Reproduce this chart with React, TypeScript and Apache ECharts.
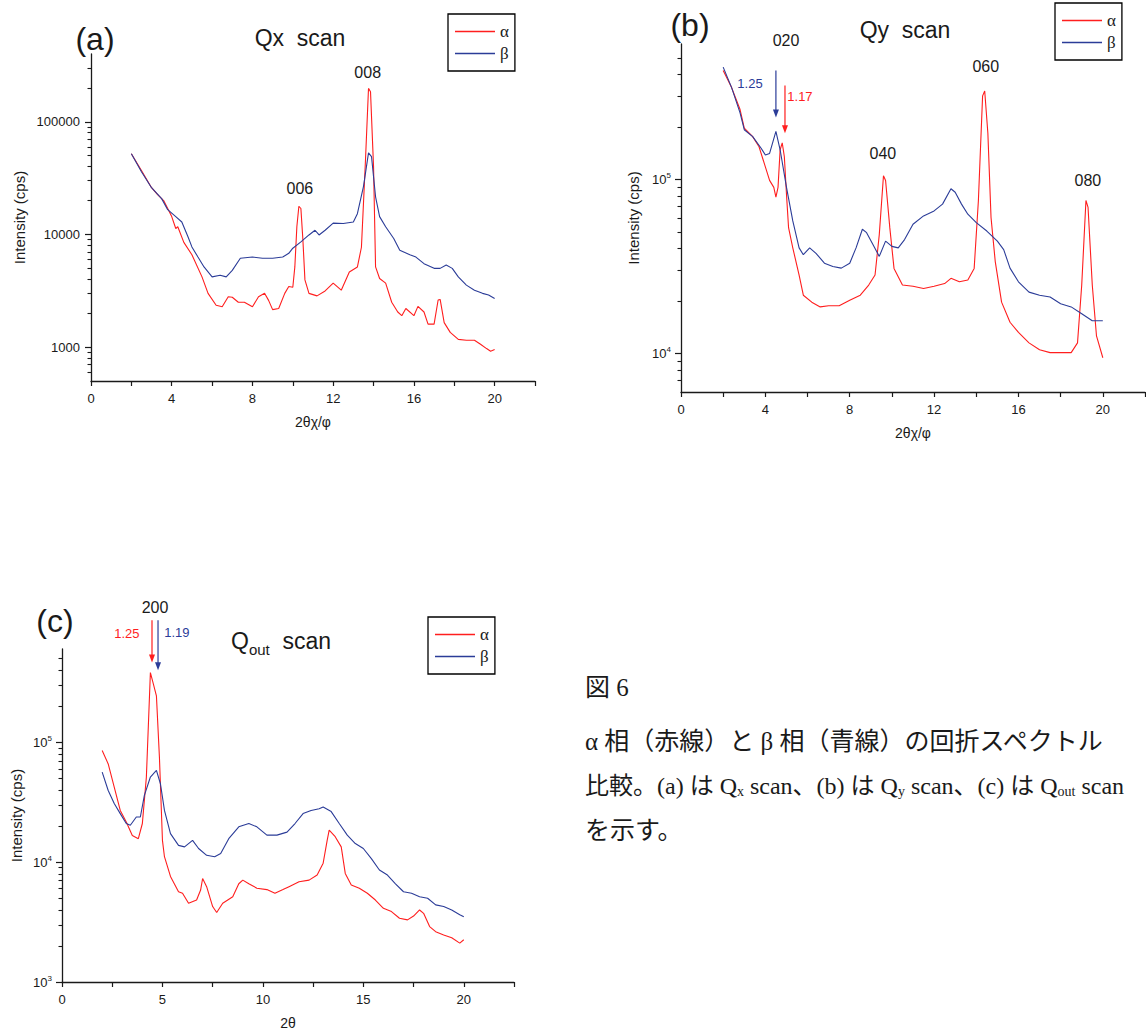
import React, { useEffect, useRef } from 'react';
import * as echarts from 'echarts';

const RED = '#ff1e1e';
const BLUE = '#2b3c98';
const INK = '#1a1a1a';
const SANS = '"Liberation Sans", Arial, sans-serif';
const SERIF = '"Liberation Serif", "Times New Roman", serif';
const CAPTION_FONT = '"Liberation Serif", "Noto Sans CJK JP", serif';

// ---------- (a) Qx scan ----------
const qxAlphaX = [2.0, 2.5, 3.0, 3.3, 3.6, 4.0, 4.2, 4.3, 4.6, 5.0, 5.5, 5.8, 6.2, 6.5, 6.8, 7.0, 7.3, 7.6, 8.0, 8.3, 8.6, 8.8, 9.0, 9.3, 9.6, 9.8, 10.0, 10.1, 10.2, 10.3, 10.4, 10.5, 10.6, 10.8, 11.2, 11.6, 12.0, 12.4, 12.8, 13.2, 13.4, 13.6, 13.75, 13.85, 14.0, 14.1, 14.3, 14.6, 14.9, 15.2, 15.4, 15.6, 16.0, 16.2, 16.5, 16.7, 17.0, 17.2, 17.3, 17.5, 17.8, 18.2, 18.6, 19.0, 19.3, 19.6, 19.8, 20.0];
const qxAlphaY = [52000, 37000, 26000, 22600, 20000, 14400, 11300, 11700, 8500, 6600, 4200, 3000, 2350, 2280, 2800, 2770, 2500, 2500, 2280, 2800, 3000, 2600, 2150, 2200, 3000, 3450, 3400, 5150, 11700, 17800, 17000, 8900, 3950, 3000, 2850, 3150, 3700, 3200, 4650, 5150, 7700, 45600, 198000, 185000, 40000, 5150, 4060, 3700, 2500, 2050, 1900, 2200, 1900, 2300, 2050, 1600, 1600, 2620, 2650, 1650, 1350, 1170, 1150, 1150, 1060, 970, 920, 950];
const qxBetaX = [2.0, 2.5, 3.0, 3.5, 3.8, 4.2, 4.5, 4.8, 5.0, 5.3, 5.6, 6.0, 6.4, 6.7, 7.0, 7.4, 8.0, 8.5, 9.0, 9.5, 9.8, 10.0, 10.4, 10.8, 11.1, 11.3, 11.6, 12.0, 12.5, 13.0, 13.2, 13.5, 13.75, 13.9, 14.1, 14.3, 14.6, 15.0, 15.3, 15.8, 16.1, 16.5, 17.0, 17.3, 17.6, 17.9, 18.2, 18.6, 19.0, 19.4, 19.7, 20.0];
const qxBetaY = [52000, 36000, 26000, 20800, 16600, 14400, 12900, 9600, 7750, 6300, 5150, 4200, 4350, 4200, 4800, 6150, 6300, 6150, 6150, 6300, 6800, 7550, 8600, 9900, 10900, 9900, 10900, 12600, 12500, 12900, 15300, 26600, 53000, 49000, 21600, 14400, 11700, 9200, 7250, 6600, 6300, 5500, 5000, 5000, 5350, 5000, 4200, 3550, 3200, 3000, 2900, 2700];

// ---------- (b) Qy scan ----------
const qyAlphaX = [2.0, 2.4, 2.8, 3.0, 3.4, 3.7, 4.0, 4.2, 4.4, 4.5, 4.6, 4.7, 4.8, 4.9, 5.0, 5.1, 5.3, 5.6, 5.8, 6.2, 6.6, 7.0, 7.5, 8.0, 8.5, 8.9, 9.2, 9.4, 9.6, 9.7, 9.9, 10.1, 10.5, 11.0, 11.5, 12.0, 12.5, 12.8, 13.2, 13.6, 13.9, 14.1, 14.3, 14.4, 14.55, 14.7, 14.9, 15.2, 15.6, 16.0, 16.5, 17.0, 17.5, 18.0, 18.5, 18.8, 19.0, 19.2, 19.3, 19.5, 19.7, 20.0];
const qyAlphaY = [422000, 337000, 252000, 197000, 176000, 154000, 118000, 98700, 90000, 79000, 90000, 148000, 162000, 135000, 82600, 52800, 40400, 28200, 21600, 19700, 18500, 18800, 18800, 20200, 21600, 24700, 28200, 48000, 105000, 98600, 52800, 30800, 24700, 24300, 23600, 24300, 25200, 27000, 25800, 26400, 30800, 75400, 302000, 322000, 184000, 60300, 33700, 19700, 15100, 13200, 11500, 10500, 10100, 10100, 10100, 11500, 24700, 75600, 69000, 24700, 12600, 9440];
const qyBetaX = [2.0, 2.4, 2.8, 3.0, 3.4, 3.8, 4.0, 4.2, 4.5, 4.7, 5.0, 5.3, 5.6, 5.8, 6.1, 6.4, 6.8, 7.2, 7.6, 8.0, 8.3, 8.6, 8.8, 9.1, 9.4, 9.7, 10.0, 10.3, 10.6, 11.0, 11.5, 12.0, 12.4, 12.8, 13.0, 13.3, 13.6, 14.0, 14.5, 15.0, 15.3, 15.6, 16.0, 16.5, 17.0, 17.5, 18.0, 18.5, 19.0, 19.5, 20.0];
const qyBetaY = [442000, 337000, 241000, 193000, 176000, 151000, 138000, 141000, 189000, 148000, 90200, 57700, 40400, 36900, 40400, 37600, 33000, 31600, 30900, 33000, 40400, 51700, 49400, 42200, 36100, 44200, 41200, 40400, 45100, 55200, 61700, 65900, 72100, 88300, 84400, 72100, 63100, 56400, 50500, 44200, 39500, 30900, 25800, 22500, 21600, 21100, 19300, 18500, 16900, 15400, 15400];

// ---------- (c) Qout scan ----------
const qoAlphaX = [2.0, 2.3, 2.6, 2.9, 3.2, 3.5, 3.8, 4.0, 4.2, 4.4, 4.55, 4.7, 4.85, 5.0, 5.1, 5.4, 5.8, 6.0, 6.3, 6.7, 6.9, 7.0, 7.2, 7.5, 7.7, 8.0, 8.5, 8.8, 9.0, 9.3, 9.7, 10.2, 10.6, 11.0, 11.3, 11.8, 12.3, 12.7, 13.0, 13.2, 13.3, 13.6, 13.9, 14.1, 14.4, 14.8, 15.2, 15.6, 16.0, 16.4, 16.8, 17.2, 17.5, 17.8, 18.0, 18.3, 18.6, 19.0, 19.4, 19.8, 20.0];
const qoAlphaY = [85300, 66000, 42300, 27000, 21600, 16700, 15700, 21000, 51200, 381000, 305000, 244000, 75000, 15200, 11100, 7600, 5660, 5500, 4540, 4830, 5850, 7300, 6240, 4260, 3800, 4540, 5140, 6600, 7080, 6600, 6060, 5900, 5500, 5900, 6240, 6860, 7080, 7800, 9800, 15200, 18500, 16300, 13400, 8050, 6450, 6060, 5500, 4830, 4120, 3870, 3400, 3300, 3550, 3990, 3740, 2900, 2630, 2470, 2340, 2110, 2250];
const qoBetaX = [2.0, 2.3, 2.6, 2.9, 3.2, 3.4, 3.7, 3.9, 4.1, 4.4, 4.7, 4.9, 5.1, 5.4, 5.8, 6.1, 6.5, 6.8, 7.2, 7.6, 7.9, 8.3, 8.8, 9.3, 9.7, 10.2, 10.7, 11.2, 11.6, 12.0, 12.4, 12.8, 13.0, 13.4, 13.8, 14.2, 14.6, 15.0, 15.4, 15.8, 16.2, 16.6, 17.0, 17.4, 17.8, 18.2, 18.6, 19.0, 19.4, 19.8, 20.0];
const qoBetaY = [56300, 39600, 30800, 25400, 21000, 20300, 23800, 23800, 36100, 51300, 58200, 45100, 27000, 17300, 13800, 13400, 15200, 13000, 11400, 11100, 11800, 15700, 19700, 21000, 19700, 16800, 16800, 17800, 21000, 25400, 27000, 27900, 28800, 26400, 21000, 16800, 14300, 13000, 10700, 8600, 7800, 6600, 5660, 5500, 5150, 5000, 4400, 4260, 3990, 3640, 3500];

// ---------- axes: ticks and labels ----------
const qxXTicks = [0, 2, 4, 6, 8, 10, 12, 14, 16, 18, 20, 22];
const qxXLabels = [0, 4, 8, 12, 16, 20];
const qyXTicks = [0, 2, 4, 6, 8, 10, 12, 14, 16, 18, 20, 22];
const qyXLabels = [0, 4, 8, 12, 16, 20];
const qoXTicks = [0, 2.5, 5, 7.5, 10, 12.5, 15, 17.5, 20, 22.5];
const qoXLabels = [0, 5, 10, 15, 20];

const qxYMajor = [1000, 10000, 100000];
const qxYMinor = [600, 700, 800, 900, 2000, 3000, 4000, 5000, 6000, 7000, 8000, 9000, 20000, 30000, 40000, 50000, 60000, 70000, 80000, 90000, 200000, 300000];
const qyYMajor = [10000, 100000];
const qyYMinor = [7000, 8000, 9000, 20000, 30000, 40000, 50000, 60000, 70000, 80000, 90000, 200000, 300000, 400000, 500000];
const qoYMajor = [1000, 10000, 100000];
const qoYMinor = [2000, 3000, 4000, 5000, 6000, 7000, 8000, 9000, 20000, 30000, 40000, 50000, 60000, 70000, 80000, 90000, 200000, 300000, 400000, 500000];

// ---------- annotations (data coordinates) ----------
const qxPeakNames = ['006', '008'];
const qxPeakX = [10.35, 13.71];
const qxPeakY = [25800, 276000];

const qyPeakNames = ['020', '040', '060', '080'];
const qyPeakX = [4.98, 9.57, 14.45, 19.29];
const qyPeakY = [630000, 141000, 446000, 98700];
const qyDNames = ['1.25', '1.17'];
const qyDX = [3.27, 5.64];
const qyDY = [356000, 300000];
const qyArrowX = [4.5, 4.93];
const qyArrowFrom = [423000, 347000];
const qyArrowTo = [227000, 184000];

const qoPeakNames = ['200'];
const qoPeakX = [4.63];
const qoPeakY = [1330000];
const qoDNames = ['1.25', '1.19'];
const qoDX = [3.23, 5.72];
const qoDY = [810000, 825000];
const qoArrowX = [4.48, 4.78];
const qoArrowFrom = [1040000, 1040000];
const qoArrowTo = [464000, 398000];

const zip = (xs: number[], ys: number[]) => xs.map((x, i) => [x, ys[i]]);

const supFormatter = (v: number) => `{b|10}{s|${Math.round(Math.log10(v))}}`;
const plainFormatter = (v: number) => String(Math.round(v));

function xAxisFor(g: number, max: number, interval: number, ticks: number[], labels: number[], name: string) {
  return {
    type: 'value', gridIndex: g, min: 0, max, interval,
    name, nameLocation: 'middle', nameGap: 34,
    nameTextStyle: { fontFamily: SANS, fontSize: 14, color: INK },
    axisLine: { show: true, onZero: false, lineStyle: { color: INK, width: 1.3 } },
    axisTick: { show: true, length: 5, customValues: ticks, lineStyle: { color: INK, width: 1.2 } },
    axisLabel: { customValues: labels, fontFamily: SANS, fontSize: 13, color: INK, margin: 11 },
    splitLine: { show: false },
  };
}

function yAxesFor(g: number, min: number, max: number, major: number[], minor: number[], nameGap: number, sup: boolean) {
  return [
    {
      type: 'log', logBase: 10, gridIndex: g, min, max, position: 'left',
      name: 'Intensity (cps)', nameLocation: 'middle', nameGap, nameRotate: 90,
      nameTextStyle: { fontFamily: SANS, fontSize: 15, color: INK },
      axisLine: { show: true, lineStyle: { color: INK, width: 1.3 } },
      axisTick: { show: true, length: 6, customValues: major, lineStyle: { color: INK, width: 1.2 } },
      axisLabel: sup
        ? {
            customValues: major, margin: 10, formatter: supFormatter,
            rich: {
              b: { fontFamily: SANS, fontSize: 13, color: INK },
              s: { fontFamily: SANS, fontSize: 8, color: INK, padding: [0, 0, 8, 0] },
            },
          }
        : { customValues: major, margin: 11, fontFamily: SANS, fontSize: 13, color: INK, formatter: plainFormatter },
      splitLine: { show: false },
    },
    {
      type: 'log', logBase: 10, gridIndex: g, min, max, position: 'left',
      axisLine: { show: false },
      axisTick: { show: true, length: 3.5, customValues: minor, lineStyle: { color: INK, width: 1.1 } },
      axisLabel: { show: false },
      splitLine: { show: false },
    },
  ];
}

function legendFor(left: number, top: number) {
  return {
    left, top, orient: 'vertical', data: ['α', 'β'], icon: 'rect',
    itemWidth: 40, itemHeight: 1.4, itemGap: 3, itemTextGap: 9,
    padding: [8, 6, 8, 7], borderColor: '#000', borderWidth: 1.3,
    selectedMode: false,
    textStyle: { fontFamily: SERIF, fontSize: 17, color: INK, lineHeight: 19 },
  };
}

function lineSeries(name: string, color: string, g: number, xs: number[], ys: number[]) {
  return {
    type: 'line', name, xAxisIndex: g, yAxisIndex: 2 * g,
    data: zip(xs, ys), symbol: 'none', showSymbol: false, clip: true,
    lineStyle: { color, width: 1.1 }, itemStyle: { color },
  };
}

const baseOption = {
  animation: false,
  backgroundColor: '#ffffff',
  grid: [
    { left: 91, top: 54, width: 444, height: 327 },
    { left: 681, top: 44, width: 464, height: 348 },
    { left: 62, top: 649, width: 452, height: 333 },
  ],
  xAxis: [
    xAxisFor(0, 22, 2, qxXTicks, qxXLabels, '2θχ/φ'),
    xAxisFor(1, 22, 2, qyXTicks, qyXLabels, '2θχ/φ'),
    xAxisFor(2, 22.5, 2.5, qoXTicks, qoXLabels, '2θ'),
  ],
  yAxis: [
    ...yAxesFor(0, 500, 400000, qxYMajor, qxYMinor, 64, false),
    ...yAxesFor(1, 6000, 600000, qyYMajor, qyYMinor, 40, true),
    ...yAxesFor(2, 1000, 600000, qoYMajor, qoYMinor, 38, true),
  ],
  legend: [legendFor(448, 14), legendFor(1055, 3), legendFor(428, 617)],
  series: [
    lineSeries('α', RED, 0, qxAlphaX, qxAlphaY),
    lineSeries('β', BLUE, 0, qxBetaX, qxBetaY),
    lineSeries('α', RED, 1, qyAlphaX, qyAlphaY),
    lineSeries('β', BLUE, 1, qyBetaX, qyBetaY),
    lineSeries('α', RED, 2, qoAlphaX, qoAlphaY),
    lineSeries('β', BLUE, 2, qoBetaX, qoBetaY),
  ],
};

function text(x: number, y: number, t: string, fontSize: number, fill = INK, fontFamily = SANS, align = 'center', extra: any = {}) {
  return {
    type: 'text', x, y, silent: true,
    style: { text: t, fontSize, fill, fontFamily, align, verticalAlign: 'middle', ...extra },
  };
}

export default function App() {
  const ref = useRef<HTMLDivElement>(null);
  useEffect(() => {
    if (!ref.current) return;
    const chart = echarts.init(ref.current, null, { renderer: 'svg' });
    chart.setOption(baseOption as any);
    const px = (g: number, x: number, y: number) =>
      chart.convertToPixel({ xAxisIndex: g, yAxisIndex: 2 * g } as any, [x, y]) as number[];

    const g: any[] = [];
    // panel letters & titles
    g.push(text(95, 39, '(a)', 32));
    g.push(text(300, 38, 'Qx  scan', 23));
    g.push(text(690, 25, '(b)', 32));
    g.push(text(905, 30, 'Qy  scan', 23));
    g.push(text(55, 621, '(c)', 32));
    g.push({
      type: 'text', x: 231, y: 641, silent: true,
      style: {
        text: '{q|Q}{s|out}{n|  scan}', align: 'left', verticalAlign: 'middle',
        rich: {
          q: { fontFamily: SANS, fontSize: 23, fill: INK, color: INK },
          s: { fontFamily: SANS, fontSize: 15, fill: INK, color: INK, padding: [16, 0, 0, 0] },
          n: { fontFamily: SANS, fontSize: 23, fill: INK, color: INK },
        },
      },
    });

    const addPeaks = (gi: number, names: string[], xs: number[], ys: number[]) => {
      names.forEach((n, i) => {
        const p = px(gi, xs[i], ys[i]);
        g.push(text(p[0], p[1], n, 16));
      });
    };
    addPeaks(0, qxPeakNames, qxPeakX, qxPeakY);
    addPeaks(1, qyPeakNames, qyPeakX, qyPeakY);
    addPeaks(2, qoPeakNames, qoPeakX, qoPeakY);

    const addD = (gi: number, names: string[], xs: number[], ys: number[], colors: string[]) => {
      names.forEach((n, i) => {
        const p = px(gi, xs[i], ys[i]);
        g.push(text(p[0], p[1], n, 13, colors[i]));
      });
    };
    addD(1, qyDNames, qyDX, qyDY, [BLUE, RED]);
    addD(2, qoDNames, qoDX, qoDY, [RED, BLUE]);

    const addArrows = (gi: number, xs: number[], from: number[], to: number[], colors: string[]) => {
      xs.forEach((x, i) => {
        const a = px(gi, x, from[i]);
        const b = px(gi, x, to[i]);
        g.push({
          type: 'line', silent: true,
          shape: { x1: a[0], y1: a[1], x2: b[0], y2: b[1] - 6 },
          style: { stroke: colors[i], lineWidth: 1.2 },
        });
        g.push({
          type: 'polygon', silent: true,
          shape: { points: [[b[0] - 3, b[1] - 8], [b[0] + 3, b[1] - 8], [b[0], b[1]]] },
          style: { fill: colors[i] },
        });
      });
    };
    addArrows(1, qyArrowX, qyArrowFrom, qyArrowTo, [BLUE, RED]);
    addArrows(2, qoArrowX, qoArrowFrom, qoArrowTo, [RED, BLUE]);

    // caption
    g.push(text(585, 687, '図 6', 25, INK, CAPTION_FONT, 'left'));
    g.push(text(585, 741, 'α 相（赤線）と β 相（青線）の回折スペクトル', 25, INK, CAPTION_FONT, 'left'));
    g.push({
      type: 'text', x: 585, y: 786, silent: true,
      style: {
        text: '比較。(a) は Q{sub|x} scan、(b) は Q{sub|y} scan、(c) は Q{sub|out} scan',
        fontSize: 24, fill: INK, fontFamily: CAPTION_FONT, align: 'left', verticalAlign: 'middle',
        rich: { sub: { fontSize: 14, fontFamily: CAPTION_FONT, fill: INK, color: INK, padding: [10, 0, 0, 0] } },
      },
    });
    g.push(text(585, 830, 'を示す。', 25, INK, CAPTION_FONT, 'left'));

    chart.setOption({ graphic: g });
    return () => chart.dispose();
  }, []);
  return (
    <div
      ref={ref}
      style={{ position: 'absolute', left: 0, top: 0, width: 1146, height: 1032, background: '#fff' }}
    />
  );
}
